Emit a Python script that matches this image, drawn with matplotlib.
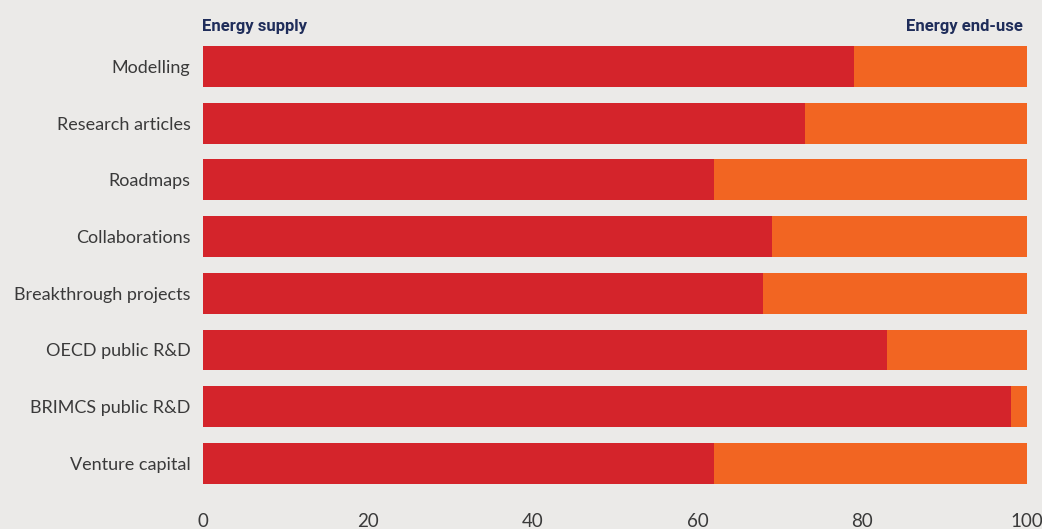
import numpy as np
import matplotlib.pyplot as plt

categories = ["Modelling", "Research articles", "Roadmaps", "Collaborations",
              "Breakthrough projects", "OECD public R&D", "BRIMCS public R&D",
              "Venture capital"]
supply = [79, 73, 62, 69, 68, 83, 98, 62]
end_use = [100 - v for v in supply]
x_ticks = [0, 20, 40, 60, 80, 100]

BG = "#ebeae8"
RED = "#d4242b"
ORANGE = "#f26522"
NAVY = "#1f2d5a"
GREY = "#3a3a3a"

plt.rcParams['font.family'] = ['Lato', 'DejaVu Sans']

fig = plt.figure(figsize=(10.42, 5.29), dpi=100, facecolor=BG)
ax = fig.add_axes([0.1948, 0.0705, 0.7908, 0.8575], facecolor=BG)

y = np.arange(len(categories))
ax.barh(y, supply, height=0.72, color=RED)
ax.barh(y, end_use, left=supply, height=0.72, color=ORANGE)

ax.set_ylim(len(categories) - 0.5, -0.5)
ax.set_xlim(0, 100)
ax.set_yticks(y)
ax.set_yticklabels(categories, fontsize=13, color=GREY)
ax.set_xticks(x_ticks)
ax.set_xticklabels([str(t) for t in x_ticks], fontsize=13.5, color=GREY)
ax.tick_params(axis='y', length=0, pad=9)
ax.tick_params(axis='x', length=0, pad=15)
for s in ax.spines.values():
    s.set_visible(False)

fig.text(0.1938, 0.950, "Energy supply", fontsize=12, fontweight='bold',
         color=NAVY, ha='left', va='center', family=['Roboto', 'DejaVu Sans'])
fig.text(0.982, 0.950, "Energy end-use", fontsize=12, fontweight='bold',
         color=NAVY, ha='right', va='center', family=['Roboto', 'DejaVu Sans'])

fig.savefig("out.png", dpi=100, facecolor=BG)
